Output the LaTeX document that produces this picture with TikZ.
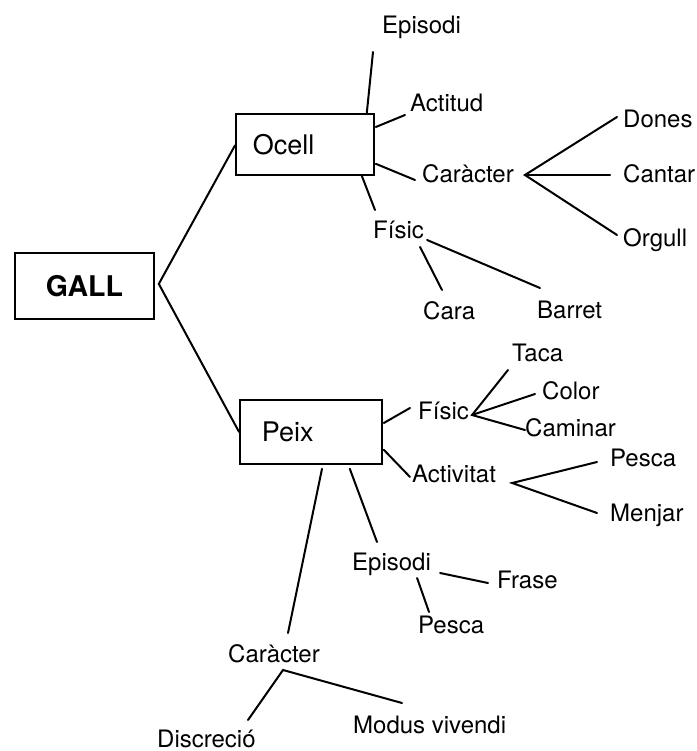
\documentclass[tikz,border=0pt]{standalone}
\usepackage{fontspec}
\setmainfont{TeX Gyre Heros}
\usetikzlibrary{calc}
\begin{document}
\begin{tikzpicture}[x=1pt,y=-1pt,
  lbl/.style={inner sep=0pt, anchor=base west, font=\fontsize{24}{28}\selectfont},
  boxst/.style={draw, line width=1.8pt, rectangle, anchor=north west, align=left,
                font=\fontsize{27}{32}\selectfont},
  link/.style={line width=2pt, line cap=round}]
\useasboundingbox[fill=white] (0,0) rectangle (696,751);

% boxes
\node[draw, line width=1.8pt, minimum width=139pt, minimum height=66pt, anchor=north west,
      font=\bfseries\fontsize{28.5}{32}\selectfont] (gall) at (14,252) {GALL};
\node[boxst, minimum height=61pt, text width=104pt, inner xsep=17pt] (ocell) at (235,113) {Ocell};
\node[boxst, minimum height=64pt, text width=98pt, inner xsep=22pt] (peix) at (239,399) {Peix};

% labels
\node[lbl] (epiA) at (382,34) {Episodi};
\node[lbl] (act) at (410,112) {Actitud};
\node[lbl] (carA) at (422,183) {Caràcter};
\node[lbl] (fisA) at (373,238) {Físic};
\node[lbl] (dones) at (623,128) {Dones};
\node[lbl] (cantar) at (623,183) {Cantar};
\node[lbl] (orgull) at (623,246) {Orgull};
\node[lbl] (cara) at (423,319) {Cara};
\node[lbl] (barret) at (537,318) {Barret};
\node[lbl] (taca) at (512,361) {Taca};
\node[lbl] (color) at (542,399) {Color};
\node[lbl] (fisB) at (418,419) {Físic};
\node[lbl] (caminar) at (525,436) {Caminar};
\node[lbl] (pescaA) at (610,466) {Pesca};
\node[lbl] (activ) at (412,482) {Activitat};
\node[lbl] (menjar) at (610,521) {Menjar};
\node[lbl] (epiB) at (352,570) {Episodi};
\node[lbl] (frase) at (497,588) {Frase};
\node[lbl] (pescaB) at (418,633) {Pesca};
\node[lbl] (carB) at (228,662) {Caràcter};
\node[lbl] (modus) at (353,733) {Modus vivendi};
\node[lbl] (discrecio) at (157,747) {Discreció};

% connectors
\draw[link] ($(ocell.west)+(0,1)$) -- ($(gall.east)+(4,-2)$) -- (peix.west);

\draw[link] ($(ocell.north east)+(-8,0)$) -- ($(epiA.base west)+(-9,18)$);
\draw[link] ($(ocell.north east)+(1,14)$) -- ($(act.base west)+(-5,3)$);
\draw[link] ($(ocell.south east)+(1,-12)$) -- ($(carA.base west)+(-7,-3)$);
\draw[link] ($(ocell.south east)+(-13,0)$) -- ($(fisA.base west)+(2,-28)$);

\draw[link] ($(dones.base west)+(-6,-11)$) -- ($(carA.base east)+(11,-8)$) -- ($(orgull.base west)+(-6,-11)$);
\draw[link] ($(carA.base east)+(11,-8)$) -- ($(cantar.base west)+(-13,-8)$);

\draw[link] ($(fisA.base east)+(-4,9)$) -- ($(cara.base west)+(19,-29)$);
\draw[link] ($(fisA.base east)+(3,2)$) -- ($(barret.base west)+(3,-30)$);

\draw[link] ($(peix.north east)+(1,24)$) -- ($(fisB.base west)+(-8,-11)$);
\draw[link] ($(taca.base west)+(-4,9)$) -- ($(fisB.base east)+(3,-4)$) -- ($(caminar.base west)+(0,-6)$);
\draw[link] ($(fisB.base east)+(3,-4)$) -- ($(color.base west)+(-7,-5)$);

\draw[link] ($(peix.south east)+(1,-15)$) -- ($(activ.base west)+(-2,-5)$);
\draw[link] ($(pescaA.base west)+(-13,-4)$) -- ($(activ.base east)+(16,1)$) -- ($(menjar.base west)+(-13,-8)$);

\draw[link] ($(peix.south east)+(-33,4)$) -- ($(epiB.base west)+(25,-28)$);
\draw[link] ($(epiB.base east)+(9,3)$) -- ($(frase.base west)+(-9,-5)$);
\draw[link] ($(epiB.base east)+(-14,8)$) -- ($(pescaB.base west)+(11,-21)$);

\draw[link] ($(peix.south west)+(83,4)$) -- ($(carB.base west)+(60,-29)$);
\draw[link] ($(discrecio.base west)+(91,-27)$) -- ($(carB.base west)+(55,8)$) -- ($(modus.base west)+(49,-30)$);
\end{tikzpicture}
\end{document}
